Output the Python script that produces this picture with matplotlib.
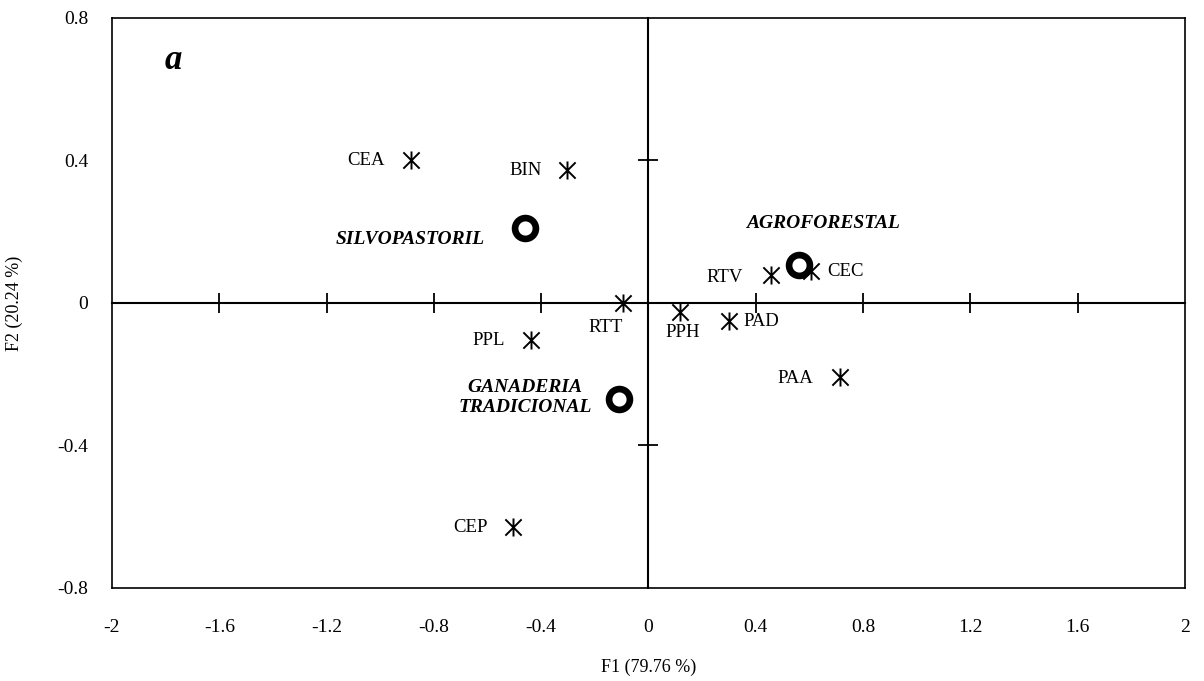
import matplotlib
matplotlib.use("Agg")
import matplotlib.pyplot as plt
from matplotlib.path import Path
import numpy as np

# Variables (asterisks)
var_names = ["CEA", "BIN", "RTT", "PPL", "CEP", "PPH", "PAD", "RTV", "CEC", "PAA"]
var_f1 = [-0.885, -0.304, -0.095, -0.438, -0.505, 0.117, 0.300, 0.456, 0.606, 0.714]
var_f2 = [0.401, 0.373, 0.0, -0.104, -0.629, -0.025, -0.051, 0.079, 0.090, -0.208]

# Systems (circles)
sys_names = ["SILVOPASTORIL", "AGROFORESTAL", "GANADERIA\nTRADICIONAL"]
sys_f1 = [-0.461, 0.561, -0.110]
sys_f2 = [0.211, 0.107, -0.269]

xticks = [-2, -1.6, -1.2, -0.8, -0.4, 0, 0.4, 0.8, 1.2, 1.6, 2]
yticks = [-0.8, -0.4, 0, 0.4, 0.8]

plt.rcParams['font.family'] = ['Liberation Serif', 'DejaVu Serif']

fig = plt.figure(figsize=(12.04, 6.81), dpi=100)
pos = [0.093, 0.1366, 0.8912, 0.837]
ax = fig.add_axes(pos)
ax.set_xlim(-2, 2)
ax.set_ylim(-0.8, 0.8)
ax.set_xticks(xticks)
ax.set_yticks(yticks)
ax.set_xticklabels([f"{v:g}" for v in xticks])
ax.set_yticklabels([f"{v:g}" for v in yticks])
ax.tick_params(length=0, labelsize=14)
ax.tick_params(axis='x', pad=22)
ax.tick_params(axis='y', pad=17)
for s in ax.spines.values():
    s.set_linewidth(1.2)
ax.set_xlabel("F1 (79.76 %)", fontsize=13, labelpad=17)
ax.set_ylabel("F2 (20.24 %)", fontsize=13, labelpad=25)

# Overlay axes with the zero-crossing axes and tick marks
ax2 = fig.add_axes(pos)
ax2.set_xlim(-2, 2)
ax2.set_ylim(-0.8, 0.8)
ax2.patch.set_visible(False)
ax2.spines['top'].set_visible(False)
ax2.spines['right'].set_visible(False)
ax2.spines['left'].set_position(('data', 0))
ax2.spines['bottom'].set_position(('data', 0))
ax2.spines['left'].set_linewidth(1.5)
ax2.spines['bottom'].set_linewidth(1.5)
ax2.tick_params(direction='inout', length=14, width=1.3, labelleft=False, labelbottom=False)
ax2.set_xticks([t for t in xticks if t not in (-2, 0, 2)])
ax2.set_yticks([t for t in yticks if t not in (-0.8, 0, 0.8)])

# asterisk marker: vertical + two diagonals
star = Path([(0, -1), (0, 1), (-0.9, -0.9), (0.9, 0.9), (-0.9, 0.9), (0.9, -0.9)],
            [Path.MOVETO, Path.LINETO, Path.MOVETO, Path.LINETO, Path.MOVETO, Path.LINETO])

ax2.plot(var_f1, var_f2, linestyle='none', marker=star, markersize=13,
         markeredgecolor='black', markeredgewidth=1.4, color='black', zorder=5)
ax2.plot(sys_f1, sys_f2, linestyle='none', marker='o', markersize=15,
         markerfacecolor='white', markeredgecolor='black', markeredgewidth=4.8, zorder=6)

px = 72 / 100.0
var_offsets = {
    "CEA": (-26, 0, 'right', 'center'),
    "BIN": (-25, 0, 'right', 'center'),
    "RTT": (-17, -25, 'center', 'center'),
    "PPL": (-26, 0, 'right', 'center'),
    "CEP": (-25, 0, 'right', 'center'),
    "PPH": (3, -21, 'center', 'center'),
    "PAD": (15, 0, 'left', 'center'),
    "RTV": (-28, -3, 'right', 'center'),
    "CEC": (16, -1, 'left', 'center'),
    "PAA": (-27, -1, 'right', 'center'),
}
for n, x, y in zip(var_names, var_f1, var_f2):
    dx, dy, ha, va = var_offsets[n]
    ax2.annotate(n, (x, y), xytext=(dx * px, dy * px), textcoords='offset points',
                 ha=ha, va=va, fontsize=13.5, zorder=7)

sys_offsets = {
    "SILVOPASTORIL": (-40, -12, 'right', 'center'),
    "AGROFORESTAL": (24, 41, 'center', 'center'),
    "GANADERIA\nTRADICIONAL": (-27, 1, 'right', 'center'),
}
for n, x, y in zip(sys_names, sys_f1, sys_f2):
    dx, dy, ha, va = sys_offsets[n]
    ax2.annotate(n, (x, y), xytext=(dx * px, dy * px), textcoords='offset points',
                 ha=ha, va=va, fontsize=14, fontweight='bold', fontstyle='italic',
                 multialignment='center', linespacing=1.25, zorder=7)

ax2.text(-1.773, 0.682, "a", fontsize=25, fontweight='bold', fontstyle='italic',
         ha='center', va='center')

fig.savefig("out.png", dpi=100)
